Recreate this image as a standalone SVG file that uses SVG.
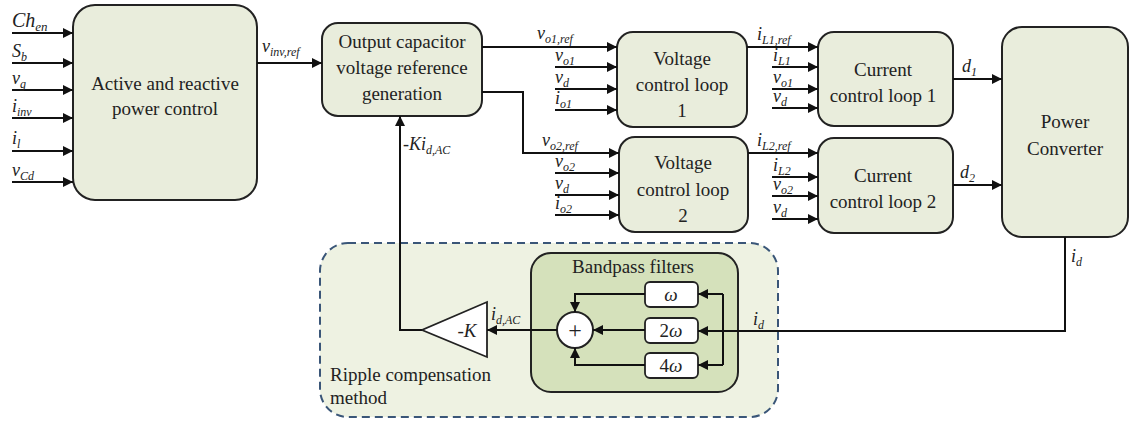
<svg xmlns="http://www.w3.org/2000/svg" width="1130" height="424" viewBox="0 0 1130 424" font-family="Liberation Serif, Times New Roman, serif">
<defs>
<marker id="ah" markerUnits="userSpaceOnUse" markerWidth="11" markerHeight="11" refX="10" refY="5" orient="auto">
<path d="M0,0 L10,5 L0,10 z" fill="#111"/>
</marker>
<style>
.blk{fill:#e9eddc;stroke:#222;stroke-width:2}
.fb{fill:#fff;stroke:#222;stroke-width:1.8}
.t{font-size:19px;fill:#222;text-anchor:middle}
.v{font-size:18px;font-style:italic;fill:#222}
.s{font-size:12px}
.c{fill:none;stroke:#111;stroke-width:2}
.ca{fill:none;stroke:#111;stroke-width:2;marker-end:url(#ah)}
</style>
</defs>
<rect width="1130" height="424" fill="#fff"/>

<g id="ripple">
<rect x="320" y="243" width="458" height="174" rx="28" fill="#eef2e2" stroke="#3a5678" stroke-width="2" stroke-dasharray="8,5"/>
<text class="t" x="330" y="381" style="text-anchor:start">Ripple compensation</text>
<text class="t" x="330" y="404" style="text-anchor:start">method</text>
</g>
<g id="bandpass">
<rect x="531" y="253" width="207" height="139" rx="20" fill="#d5e1bb" stroke="#222" stroke-width="2"/>
<text class="t" x="633" y="273">Bandpass filters</text>
</g>
<g id="f1"><rect class="fb" x="645" y="282" width="53" height="25" rx="5"/><text class="t" x="671" y="301" font-style="italic">ω</text></g>
<g id="f2"><rect class="fb" x="645" y="318" width="53" height="25" rx="5"/><text class="t" x="671" y="337">2<tspan font-style="italic">ω</tspan></text></g>
<g id="f4"><rect class="fb" x="645" y="353" width="53" height="25" rx="5"/><text class="t" x="671" y="372">4<tspan font-style="italic">ω</tspan></text></g>
<g id="sum"><circle cx="575" cy="330" r="18" fill="#fff" stroke="#222" stroke-width="2"/><text class="t" x="575" y="338" style="font-size:24px">+</text></g>
<g id="gain"><polygon points="487,302 487,357 422,330" fill="#fff" stroke="#222" stroke-width="1.8"/><text class="t" x="467" y="337">-<tspan font-style="italic">K</tspan></text></g>

<g id="active"><rect class="blk" x="73" y="5" width="184" height="195" rx="22"/>
<text class="t" x="165" y="90">Active and reactive</text><text class="t" x="165" y="115">power control</text></g>
<g id="ocvrg"><rect class="blk" x="322" y="23" width="160" height="93" rx="16"/>
<text class="t" x="402" y="48">Output capacitor</text><text class="t" x="402" y="74">voltage reference</text><text class="t" x="402" y="100">generation</text></g>
<g id="vcl1"><rect class="blk" x="617" y="32" width="130" height="95" rx="16"/>
<text class="t" x="682" y="65">Voltage</text><text class="t" x="682" y="91">control loop</text><text class="t" x="682" y="117">1</text></g>
<g id="vcl2"><rect class="blk" x="619" y="137" width="129" height="95" rx="16"/>
<text class="t" x="683" y="169">Voltage</text><text class="t" x="683" y="196">control loop</text><text class="t" x="683" y="222">2</text></g>
<g id="ccl1"><rect class="blk" x="818" y="32" width="135" height="94" rx="16"/>
<text class="t" x="883" y="76">Current</text><text class="t" x="883" y="102">control loop 1</text></g>
<g id="ccl2"><rect class="blk" x="818" y="138" width="135" height="95" rx="16"/>
<text class="t" x="883" y="182">Current</text><text class="t" x="883" y="208">control loop 2</text></g>
<g id="pc"><rect class="blk" x="1002" y="27" width="126" height="210" rx="20"/>
<text class="t" x="1065" y="128">Power</text><text class="t" x="1065" y="155">Converter</text></g>

<g id="connectors">
<path class="ca" d="M12,33 H73"/>
<path class="ca" d="M12,63 H73"/>
<path class="ca" d="M12,90 H73"/>
<path class="ca" d="M12,118 H73"/>
<path class="ca" d="M12,151 H73"/>
<path class="ca" d="M12,182 H73"/>
<path class="ca" d="M257,63 H322"/>
<path class="ca" d="M482,47 H617"/>
<path class="ca" d="M482,92 H523 V153 H619"/>
<path class="ca" d="M555,67 H617"/>
<path class="ca" d="M555,89 H617"/>
<path class="ca" d="M555,110 H617"/>
<path class="ca" d="M555,173 H619"/>
<path class="ca" d="M555,195 H619"/>
<path class="ca" d="M555,215 H619"/>
<path class="ca" d="M747,47 H818"/>
<path class="ca" d="M772,67 H818"/>
<path class="ca" d="M772,89 H818"/>
<path class="ca" d="M772,108 H818"/>
<path class="ca" d="M748,153 H818"/>
<path class="ca" d="M772,177 H818"/>
<path class="ca" d="M772,196 H818"/>
<path class="ca" d="M772,219 H818"/>
<path class="ca" d="M953,79 H1002"/>
<path class="ca" d="M953,185 H1002"/>
<path class="ca" d="M1065,237 V331 H698"/>
<path class="c" d="M723,294 V365"/>
<path class="ca" d="M723,294 H698"/>
<path class="ca" d="M723,365 H698"/>
<path class="ca" d="M645,294 H575 V312"/>
<path class="ca" d="M645,365 H575 V348"/>
<path class="ca" d="M645,330 H593"/>
<path class="ca" d="M557,330 H487"/>
<path class="ca" d="M422,330 H400 V116"/>
</g>

<g id="labels">
<text class="v" x="12" y="27" style="font-size:20px">Ch<tspan dy="4" style="font-size:13px">en</tspan></text>
<text class="v" x="12" y="57">S<tspan class="s" dy="4">b</tspan></text>
<text class="v" x="12" y="84">v<tspan class="s" dy="4">g</tspan></text>
<text class="v" x="12" y="112">i<tspan class="s" dy="4">inv</tspan></text>
<text class="v" x="12" y="144">i<tspan class="s" dy="4">l</tspan></text>
<text class="v" x="12" y="176">v<tspan class="s" dy="4">Cd</tspan></text>
<text class="v" x="262" y="52">v<tspan class="s" dy="4">inv,ref</tspan></text>
<text class="v" x="403" y="150">-Ki<tspan class="s" dy="4">d,AC</tspan></text>
<text class="v" x="537" y="39">v<tspan class="s" dy="4">o1,ref</tspan></text>
<text class="v" x="555" y="61">v<tspan class="s" dy="4">o1</tspan></text>
<text class="v" x="555" y="83">v<tspan class="s" dy="4">d</tspan></text>
<text class="v" x="555" y="104">i<tspan class="s" dy="4">o1</tspan></text>
<text class="v" x="542" y="146">v<tspan class="s" dy="4">o2,ref</tspan></text>
<text class="v" x="555" y="167">v<tspan class="s" dy="4">o2</tspan></text>
<text class="v" x="555" y="189">v<tspan class="s" dy="4">d</tspan></text>
<text class="v" x="555" y="209">i<tspan class="s" dy="4">o2</tspan></text>
<text class="v" x="757" y="40">i<tspan class="s" dy="4">L1,ref</tspan></text>
<text class="v" x="773" y="61">i<tspan class="s" dy="4">L1</tspan></text>
<text class="v" x="773" y="83">v<tspan class="s" dy="4">o1</tspan></text>
<text class="v" x="773" y="102">v<tspan class="s" dy="4">d</tspan></text>
<text class="v" x="757" y="146">i<tspan class="s" dy="4">L2,ref</tspan></text>
<text class="v" x="773" y="171">i<tspan class="s" dy="4">L2</tspan></text>
<text class="v" x="773" y="190">v<tspan class="s" dy="4">o2</tspan></text>
<text class="v" x="773" y="213">v<tspan class="s" dy="4">d</tspan></text>
<text class="v" x="962" y="72">d<tspan class="s" dy="4">1</tspan></text>
<text class="v" x="960" y="178">d<tspan class="s" dy="4">2</tspan></text>
<text class="v" x="1071" y="262">i<tspan class="s" dy="4">d</tspan></text>
<text class="v" x="753" y="325">i<tspan class="s" dy="4">d</tspan></text>
<text class="v" x="491" y="320">i<tspan class="s" dy="4">d,AC</tspan></text>
</g>
</svg>
